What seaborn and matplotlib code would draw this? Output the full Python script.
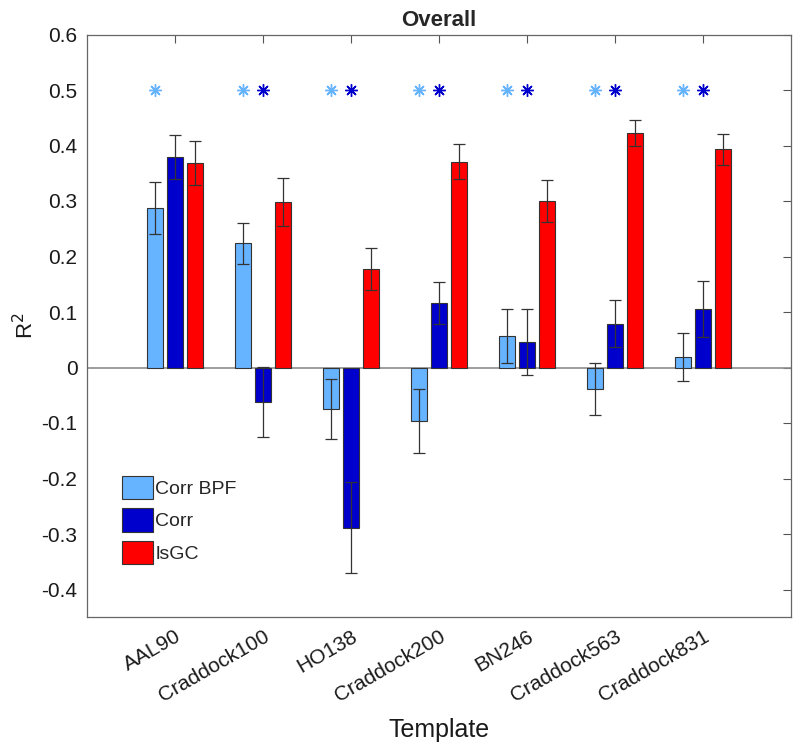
"""
Grouped bar chart of R^2 per template for three connectivity methods.
"""
import numpy as np
import pandas as pd
import matplotlib
matplotlib.use("Agg")
import matplotlib.pyplot as plt
import seaborn as sns

# data
templates = ["AAL90", "Craddock100", "HO138", "Craddock200", "BN246",
             "Craddock563", "Craddock831"]
methods = ["Corr BPF", "Corr", "lsGC"]

corr_bpf = [0.288, 0.224, -0.074, -0.096, 0.057, -0.038, 0.019]
corr = [0.379, -0.062, -0.289, 0.116, 0.046, 0.079, 0.105]
lsgc = [0.368, 0.298, 0.178, 0.371, 0.300, 0.423, 0.393]

corr_bpf_err = [0.047, 0.037, 0.054, 0.058, 0.048, 0.047, 0.043]
corr_err = [0.040, 0.063, 0.082, 0.038, 0.059, 0.042, 0.050]
lsgc_err = [0.040, 0.043, 0.038, 0.032, 0.038, 0.023, 0.028]

# significance stars (drawn at 0.5)
sig_bpf = [1, 1, 1, 1, 1, 1, 1]
sig_corr = [0, 1, 1, 1, 1, 1, 1]
star_y = 0.5

yticks = [-0.4, -0.3, -0.2, -0.1, 0, 0.1, 0.2, 0.3, 0.4, 0.5, 0.6]
ytick_labels = ["-0.4", "-0.3", "-0.2", "-0.1", "0", "0.1", "0.2", "0.3",
                "0.4", "0.5", "0.6"]

colors = ["#66B3FF", "#0000CC", "#FF0000"]

sns.set_theme(style="white")
plt.rcParams['font.family'] = ['Liberation Sans', 'DejaVu Sans']

rows = []
for m, vals, errs in zip(methods, [corr_bpf, corr, lsgc],
                         [corr_bpf_err, corr_err, lsgc_err]):
    for t, v, e in zip(templates, vals, errs):
        rows.append({"Template": t, "Method": m, "R2": v, "err": e})
df = pd.DataFrame(rows)

fig = plt.figure(figsize=(8, 7.5), dpi=100)
ax = fig.add_axes([0.109, 0.177, 0.88, 0.777])

ax.axhline(0, color="#8c8c8c", lw=1.2, zorder=1)

sns.barplot(data=df, x="Template", y="R2", hue="Method", hue_order=methods,
            order=templates, palette=colors, saturation=1, width=0.675,
            gap=0.2, errorbar=None, edgecolor="#333333", linewidth=0.8,
            ax=ax, zorder=2)

# error bars on each bar, using the bar patch positions
bars = ax.patches[:21]
for i, m in enumerate(methods):
    sub = df[df["Method"] == m]
    for j, t in enumerate(templates):
        p = bars[i * len(templates) + j]
        xc = p.get_x() + p.get_width() / 2
        r = sub[sub["Template"] == t].iloc[0]
        ax.errorbar(xc, r["R2"], yerr=r["err"], fmt="none", ecolor="#333333",
                    elinewidth=0.9, capsize=4, capthick=0.9, zorder=3)

# significance asterisks
xpos = np.arange(len(templates))
for j in range(len(templates)):
    if sig_bpf[j]:
        ax.plot(xpos[j] - 0.225, star_y, marker=(8, 2, 0), ms=9,
                color=colors[0], mew=1.0, zorder=4)
    if sig_corr[j]:
        ax.plot(xpos[j], star_y, marker=(8, 2, 0), ms=9,
                color=colors[1], mew=1.0, zorder=4)

ax.set_xlim(-1, 7)
ax.set_ylim(-0.45, 0.6)
ax.set_yticks(yticks)
ax.set_yticklabels(ytick_labels)
ax.set_xticks(xpos)
ax.set_xticklabels(templates, rotation=30, ha="right", rotation_mode="anchor")

ax.tick_params(axis="both", direction="in", length=6, width=0.8,
               colors="#555555", labelcolor="#1a1a1a", labelsize=15,
               top=True, right=True, pad=7)
for s in ax.spines.values():
    s.set_visible(True)
    s.set_color("#666666")
    s.set_linewidth(0.9)

ax.set_title("Overall", fontsize=16, fontweight="bold", pad=6)
ax.set_xlabel("Template", fontsize=18, color="#1a1a1a", labelpad=9)
ax.set_ylabel("R$^2$", fontsize=16, color="#1a1a1a", labelpad=2)

leg = ax.legend(loc="upper left", bbox_to_anchor=(0.05, 0.243), frameon=False,
                fontsize=14, handlelength=1.55, handleheight=1.5,
                labelspacing=0.45, handletextpad=0.15, borderpad=0,
                borderaxespad=0)
for h in leg.legend_handles:
    h.set_edgecolor("#333333")
    h.set_linewidth(0.8)

fig.savefig("out.png", dpi=100)
